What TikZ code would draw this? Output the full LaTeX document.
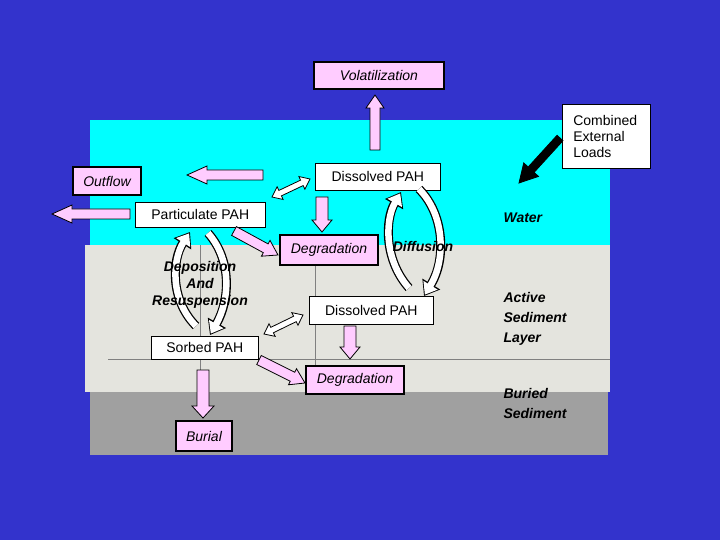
\documentclass[tikz,border=0pt]{standalone}
\usepackage{fontspec}
\setmainfont{Liberation Sans}
\usetikzlibrary{calc,arrows.meta}
\definecolor{bgblue}{RGB}{51,51,204}
\definecolor{water}{RGB}{0,255,255}
\definecolor{pinkf}{RGB}{255,204,255}
\definecolor{sedl}{RGB}{228,228,222}
\definecolor{sedd}{RGB}{160,160,160}
\newcommand\barrow[6]{% fill, A, B, shaft half, head half, head len
\draw[fill=#1,line width=0.8pt] ($(#2)!#4!90:(#3)$) -- ($($(#3)!#6!(#2)$)!#4!90:(#3)$) -- ($($(#3)!#6!(#2)$)!#5!90:(#3)$) -- (#3) -- ($($(#3)!#6!(#2)$)!#5!-90:(#3)$) -- ($($(#3)!#6!(#2)$)!#4!-90:(#3)$) -- ($(#2)!#4!-90:(#3)$) -- cycle;}
\newcommand\dbarrow[6]{%
\draw[fill=#1,line width=0.8pt] (#2) -- ($($(#2)!#6!(#3)$)!#5!90:(#3)$) -- ($($(#2)!#6!(#3)$)!#4!90:(#3)$) -- ($($(#3)!#6!(#2)$)!#4!90:(#3)$) -- ($($(#3)!#6!(#2)$)!#5!90:(#3)$) -- (#3) -- ($($(#3)!#6!(#2)$)!#5!-90:(#3)$) -- ($($(#3)!#6!(#2)$)!#4!-90:(#3)$) -- ($($(#2)!#6!(#3)$)!#4!-90:(#3)$) -- ($($(#2)!#6!(#3)$)!#5!-90:(#3)$) -- cycle;}
\tikzset{
 wbox/.style={draw=black,fill=white,line width=0.6pt,font=\fontsize{14}{16}\selectfont,anchor=north west,inner sep=0pt},
 pbox/.style={draw=black,fill=pinkf,line width=2pt,font=\fontsize{14}{16}\selectfont\itshape,anchor=north west,inner sep=0pt},
 lbl/.style={font=\fontsize{14}{16}\selectfont\bfseries\itshape,align=left},
 cblack/.style={line width=9pt,-{Triangle[length=14pt,width=20pt]}},
 cwhite/.style={line width=6.5pt,white,-{Triangle[length=11pt,width=16pt]},shorten >=1.6pt}
}
\begin{document}
\begin{tikzpicture}[x=1pt,y=-1pt]
\fill[bgblue] (0,0) rectangle (720,540);
\fill[water] (90,120) rectangle (610,245);
\fill[sedl] (85,245) rectangle (610,392);
\fill[sedd] (90,392) rectangle (608,455);
\draw[gray,line width=0.4pt] (108,359) -- (610,359) (200,245) -- (200,392) (315,245) -- (315,392);
% nodes
\node[pbox,minimum width=130,minimum height=27] (vol) at (313,61) {Volatilization};
\node[wbox,minimum width=88,minimum height=64,align=left,text width=80,inner sep=0pt] (cel) at (562,104) {\hspace*{7pt}\parbox{78pt}{Combined\\External\\Loads}};
\node[pbox,minimum width=68,minimum height=28] (out) at (72,166) {Outflow};
\node[wbox,minimum width=125,minimum height=27] (d1) at (315,163) {Dissolved PAH};
\node[wbox,minimum width=130,minimum height=25] (pp) at (135,202) {Particulate PAH};
\node[pbox,minimum width=98,minimum height=30] (deg1) at (279,234) {Degradation};
\node[wbox,minimum width=124,minimum height=28] (d2) at (309,296) {Dissolved PAH};
\node[wbox,minimum width=107,minimum height=23] (sp) at (151,336) {Sorbed PAH};
\node[pbox,minimum width=98,minimum height=28] (deg2) at (305,365) {Degradation};
\node[pbox,minimum width=56,minimum height=30] (bur) at (175,420) {Burial};
% straight arrows
\coordinate (a1) at (375,150); \coordinate (a2) at (375,95);
\barrow{pinkf}{a1}{a2}{5pt}{9pt}{13pt}
\coordinate (b1) at (263,175); \coordinate (b2) at (187,175);
\barrow{pinkf}{b1}{b2}{5pt}{9pt}{20pt}
\coordinate (c1) at (130,214); \coordinate (c2) at (52,214);
\barrow{pinkf}{c1}{c2}{5pt}{9pt}{20pt}
\coordinate (e1) at (322,197); \coordinate (e2) at (322,232);
\barrow{pinkf}{e1}{e2}{6pt}{10pt}{12pt}
\coordinate (f1) at (234,231); \coordinate (f2) at (278,255);
\barrow{pinkf}{f1}{f2}{5pt}{9pt}{14pt}
\coordinate (g1) at (350,326); \coordinate (g2) at (350,359);
\barrow{pinkf}{g1}{g2}{6pt}{10pt}{12pt}
\coordinate (h1) at (259,360); \coordinate (h2) at (305,383);
\barrow{pinkf}{h1}{h2}{5pt}{9pt}{14pt}
\coordinate (i1) at (203,370); \coordinate (i2) at (203,418);
\barrow{pinkf}{i1}{i2}{6pt}{11pt}{12pt}
\coordinate (j1) at (272,197); \coordinate (j2) at (310,179);
\dbarrow{white}{j1}{j2}{3pt}{7pt}{9pt}
\coordinate (k1) at (264,334); \coordinate (k2) at (303,315);
\dbarrow{white}{k1}{k2}{3pt}{7pt}{9pt}
\coordinate (l1) at (560,138); \coordinate (l2) at (519,183);
\barrow{black}{l1}{l2}{4pt}{10pt}{18pt}
% curved arrows
\foreach \s in {cblack,cwhite}{
 \draw[\s] (196,326) .. controls (170,300) and (172,260) .. (190,232);
 \draw[\s] (208,233) .. controls (232,260) and (230,300) .. (210,335);
 \draw[\s] (409,288) .. controls (384,260) and (385,220) .. (401,192);
 \draw[\s] (419,189) .. controls (445,215) and (446,260) .. (424,296);
}
% labels
\node[lbl,align=center] (dep) at (200,285) {Deposition\\[1pt]And\\[1pt]Resuspension};
\node[lbl] (dif) at (423,246) {Diffusion};
\node[lbl,anchor=west] (wat) at (500,218) {Water};
\node[lbl,anchor=north west] (asl) at (500,289) {Active\\[4pt]Sediment\\[4pt]Layer};
\node[lbl,anchor=north west] (bs) at (500,385) {Buried\\[4pt]Sediment};
\end{tikzpicture}
\end{document}
